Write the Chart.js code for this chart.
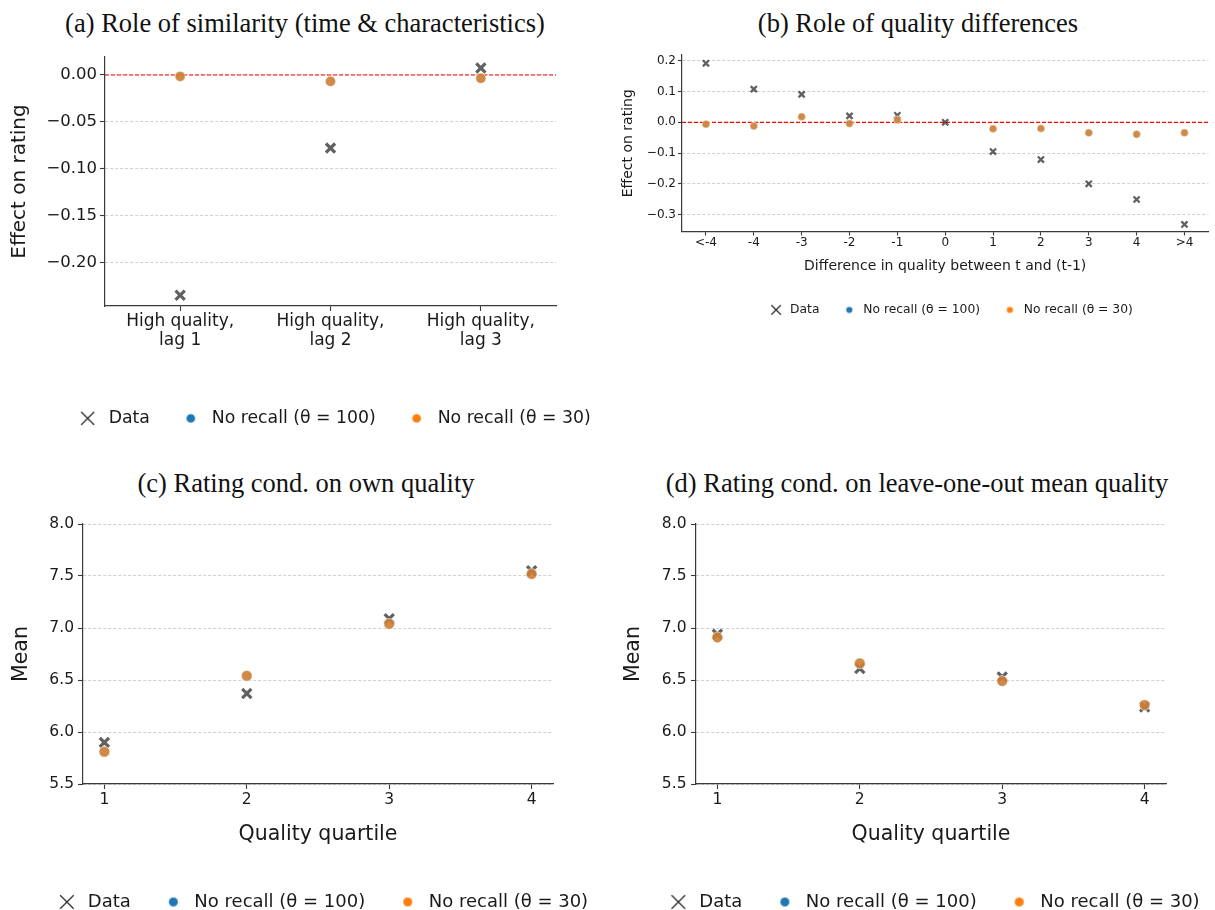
<!DOCTYPE html>
<html>
<head>
<meta charset="utf-8">
<script src="https://cdn.jsdelivr.net/npm/chart.js@4.4.1/dist/chart.umd.min.js"></script>
<style>
  html, body { margin: 0; padding: 0; background: #fff; width: 1215px; height: 910px; overflow: hidden; }
  canvas { position: absolute; }
  .ttl { position: absolute; font-family: 'Liberation Serif', serif; font-size: 26.5px; line-height: 1; color: #111;
         white-space: nowrap; transform: translateX(-50%); }
</style>
</head>
<body>
<div class="ttl" style="left:305px; top:9.5px">(a) Role of similarity (time &amp; characteristics)</div>
<div class="ttl" style="left:918px; top:9.5px">(b) Role of quality differences</div>
<div class="ttl" style="left:306px; top:470px">(c) Rating cond. on own quality</div>
<div class="ttl" style="left:917px; top:470px">(d) Rating cond. on leave-one-out mean quality</div>

<canvas id="chartA" style="left:0px; top:0px;" width="625" height="437"></canvas>
<canvas id="chartB" style="left:610px; top:0px;" width="605" height="326"></canvas>
<canvas id="chartC" style="left:0px; top:460px;" width="625" height="461"></canvas>
<canvas id="chartD" style="left:595px; top:460px;" width="620" height="461"></canvas>

<script>
// ---------------- Data ----------------
const seriesNames = ['Data', 'No recall (θ = 100)', 'No recall (θ = 30)'];

// (a) Role of similarity
const catsA = [['High quality,', 'lag 1'], ['High quality,', 'lag 2'], ['High quality,', 'lag 3']];
const dataA = [-0.235, -0.078, 0.0075];
const noRecall100A = [-0.0015, -0.0068, -0.0036];
const noRecall30A = [-0.0015, -0.0068, -0.0036];
const yTicksA = [0.00, -0.05, -0.10, -0.15, -0.20];

// (b) Role of quality differences
const catsB = ['<-4', '-4', '-3', '-2', '-1', '0', '1', '2', '3', '4', '>4'];
const dataB = [0.192, 0.108, 0.091, 0.021, 0.023, 0.0, -0.095, -0.121, -0.200, -0.251, -0.332];
const noRecall100B = [-0.006, -0.012, 0.018, -0.004, 0.008, null, -0.021, -0.020, -0.034, -0.039, -0.034];
const noRecall30B = [-0.006, -0.012, 0.018, -0.004, 0.008, null, -0.021, -0.020, -0.034, -0.039, -0.034];
const yTicksB = [0.2, 0.1, 0.0, -0.1, -0.2, -0.3];

// (c) Rating conditional on own quality
const quartiles = [1, 2, 3, 4];
const dataC = [5.90, 6.37, 7.09, 7.55];
const noRecall100C = [5.81, 6.54, 7.04, 7.52];
const noRecall30C = [5.81, 6.54, 7.04, 7.52];

// (d) Rating conditional on leave-one-out mean quality
const dataD = [6.94, 6.61, 6.53, 6.24];
const noRecall100D = [6.91, 6.66, 6.49, 6.26];
const noRecall30D = [6.91, 6.66, 6.49, 6.26];
const yTicksCD = [5.5, 6.0, 6.5, 7.0, 7.5, 8.0];

// ---------------- Styling helpers ----------------
Chart.defaults.font.family = "'DejaVu Sans', sans-serif";
const TXT = '#1a1a1a';
const SPINE = '#3a3a3a';
const GRID = '#c4c4c4';
const XCOL = 'rgba(0,0,0,0.62)';
const BLUE = 'rgba(31,119,180,0.7)';
const ORANGE = 'rgba(255,127,14,0.7)';

function fmt(d) { return v => (v < 0 ? '\u2212' : '') + Math.abs(v).toFixed(d); }

function legendIcon(kind, size, color, lw) {
  const c = document.createElement('canvas');
  const s = Math.ceil(size) + 4;
  c.width = s; c.height = s;
  const g = c.getContext('2d');
  if (kind === 'x') {
    g.strokeStyle = color; g.lineWidth = lw;
    const a = (s - size) / 2, b = a + size;
    g.beginPath(); g.moveTo(a, a); g.lineTo(b, b); g.moveTo(b, a); g.lineTo(a, b); g.stroke();
  } else {
    g.fillStyle = color; g.beginPath(); g.arc(s / 2, s / 2, size / 2, 0, Math.PI * 2); g.fill();
  }
  return c;
}

const zeroLine = {
  id: 'zeroLine',
  beforeDatasetsDraw(chart, args, opts) {
    if (!opts || opts.value === undefined) return;
    const a = chart.chartArea, y = chart.scales.y;
    const py = y.getPixelForValue(opts.value);
    const ctx = chart.ctx;
    ctx.save();
    ctx.strokeStyle = opts.color; ctx.lineWidth = opts.width; ctx.setLineDash(opts.dash);
    ctx.beginPath(); ctx.moveTo(a.left, py); ctx.lineTo(a.right, py); ctx.stroke();
    ctx.restore();
  }
};

const legendCenter = {
  id: 'legendCenter',
  afterLayout(chart, args, opts) {
    const lg = chart.legend;
    if (!lg || opts.center === undefined) return;
    const w = lg.right - lg.left;
    lg.left = opts.center - w / 2;
    lg.right = opts.center + w / 2;
  }
};

function makePanel(id, p) {
  const xs = p.xValues;
  const pts = arr => xs ? arr.map((y, i) => ({x: xs[i], y: y})) : arr;
  const datasets = [
    {label: seriesNames[0], data: pts(p.series[0]), showLine: false, pointStyle: 'crossRot',
     pointRadius: p.xr, pointBorderWidth: p.xw, pointBorderColor: XCOL, pointBackgroundColor: XCOL, order: 3},
    {label: seriesNames[1], data: pts(p.series[1]), showLine: false, pointStyle: 'circle',
     pointRadius: p.dr, pointBorderWidth: 0.7, pointBorderColor: 'rgba(255,255,255,0.55)', pointBackgroundColor: BLUE, order: 2},
    {label: seriesNames[2], data: pts(p.series[2]), showLine: false, pointStyle: 'circle',
     pointRadius: p.dr, pointBorderWidth: 0.7, pointBorderColor: 'rgba(255,255,255,0.55)', pointBackgroundColor: ORANGE, order: 1}
  ];
  const icons = [
    legendIcon('x', p.legIconX, '#2a2a2a', p.legIconLw),
    legendIcon('o', p.legIconDot, '#1f77b4'),
    legendIcon('o', p.legIconDot, '#ff7f0e')
  ];
  const legendH = p.legFont + p.legPad + 10;
  const xHeight = p.H - legendH - p.areaBottom;

  const xTicks = {font: {size: p.xTickFont, lineHeight: 1.12}, color: TXT, padding: p.xTickPad,
                  maxRotation: 0, autoSkip: false};
  let xScale;
  if (p.labels) {
    xScale = {type: 'category', offset: true};
  } else {
    xScale = {type: 'linear', min: p.xMin, max: p.xMax,
              afterBuildTicks: s => { s.ticks = p.xTicks.map(v => ({value: v})); }};
    xTicks.callback = v => String(v);
  }
  Object.assign(xScale, {
    afterFit: s => { s.height = xHeight; },
    ticks: xTicks,
    grid: {display: true, drawOnChartArea: false, drawTicks: true, tickLength: p.tickLen,
           tickColor: SPINE, tickWidth: 1.1, offset: false},
    border: {display: true, color: SPINE, width: 1.2},
    title: p.xTitle ? {display: true, text: p.xTitle, color: TXT, font: {size: p.xTitleFont},
                       padding: {top: 0, bottom: p.xTitlePadB}} : {display: false}
  });

  const scales = {
    x: xScale,
    y: {
      type: 'linear', position: 'left', min: p.yMin, max: p.yMax,
      afterBuildTicks: s => { s.ticks = p.yTicks.map(v => ({value: v})); },
      afterFit: s => { s.width = p.yWidth; },
      ticks: {font: {size: p.yTickFont}, color: TXT, padding: p.yTickPad, callback: fmt(p.yDec)},
      grid: {display: true, drawOnChartArea: true, drawTicks: true, color: GRID, lineWidth: 0.8,
             tickLength: p.tickLen, tickColor: SPINE, tickWidth: 1.1, tickBorderDash: []},
      border: {display: true, color: SPINE, width: 1.2, dash: [3, 2]},
      title: {display: true, text: p.yTitle, color: TXT, font: {size: p.yTitleFont},
              padding: {top: p.yTitlePadT, bottom: 0}}
    }
  };
  if (p.rightW) {
    // empty spacer on the right so the legend may be wider than the plot
    scales.spacer = {type: 'linear', axis: 'y', position: 'right', display: true,
      ticks: {display: false}, grid: {display: false, drawTicks: false}, border: {display: false},
      afterFit: s => { s.width = p.rightW; }};
  }

  const cfg = {
    type: 'line',
    data: {labels: p.labels || [], datasets: datasets},
    options: {
      responsive: false, devicePixelRatio: 1, animation: false, events: [],
      layout: {padding: {top: p.padTop, right: 0, left: 0, bottom: 0}},
      scales: scales,
      plugins: {
        title: {display: false},
        tooltip: {enabled: false},
        zeroLine: p.zero ? {value: 0, color: '#ff0000', width: 1.1, dash: [4, 2]} : {},
        legendCenter: {center: p.legCenter},
        legend: {
          display: true, position: 'bottom', align: 'center',
          labels: {
            usePointStyle: true, pointStyleWidth: p.legBox, padding: p.legPad,
            font: {size: p.legFont}, color: TXT,
            generateLabels: () => seriesNames.map((t, i) => ({
              text: t, pointStyle: icons[i], fillStyle: 'rgba(0,0,0,0)', strokeStyle: 'rgba(0,0,0,0)',
              lineWidth: 0, hidden: false, datasetIndex: i, fontColor: TXT
            }))
          }
        }
      }
    },
    plugins: p.zero ? [zeroLine, legendCenter] : [legendCenter]
  };
  return new Chart(document.getElementById(id), cfg);
}

// (a)
makePanel('chartA', {
  labels: catsA, series: [dataA, noRecall100A, noRecall30A],
  H: 437, padTop: 57, rightW: 625 - 556, areaBottom: 306, yWidth: 105,
  yMin: -0.2465, yMax: 0.0192, yTicks: yTicksA, yDec: 2,
  yTickFont: 16.5, yTickPad: 3, tickLen: 5, xTickFont: 17, xTickPad: 1,
  yTitle: 'Effect on rating', yTitleFont: 20, yTitlePadT: 8,
  xTitle: null, zero: true,
  xr: 6.5, xw: 3.2, dr: 5,
  legFont: 17.3, legPad: 28.5, legBox: 24.7, legCenter: 333,
  legIconX: 13, legIconLw: 1.3, legIconDot: 8.7
});

// (b)
makePanel('chartB', {
  labels: catsB, series: [dataB, noRecall100B, noRecall30B],
  H: 326, padTop: 55, rightW: 0, areaBottom: 231.5, yWidth: 72,
  yMin: -0.355, yMax: 0.219, yTicks: yTicksB, yDec: 1,
  yTickFont: 12, yTickPad: 2, tickLen: 4, xTickFont: 12, xTickPad: 1,
  yTitle: 'Effect on rating', yTitleFont: 14, yTitlePadT: 9.6,
  xTitle: 'Difference in quality between t and (t-1)', xTitleFont: 14, xTitlePadB: 7.3, zero: true,
  xr: 4.3, xw: 2.3, dr: 3.8,
  legFont: 12.3, legPad: 22, legBox: 15.7, legCenter: 340.5,
  legIconX: 9.5, legIconLw: 1.25, legIconDot: 6.2
});

// (c)
makePanel('chartC', {
  labels: null, xValues: quartiles, xMin: 0.85, xMax: 4.15, xTicks: quartiles,
  series: [dataC, noRecall100C, noRecall30C],
  H: 461, padTop: 64, rightW: 625 - 553, areaBottom: 324, yWidth: 83,
  yMin: 5.5, yMax: 8.0, yTicks: yTicksCD, yDec: 1,
  yTickFont: 15.5, yTickPad: 4, tickLen: 5, xTickFont: 15.5, xTickPad: 2.5,
  yTitle: 'Mean', yTitleFont: 20.5, yTitlePadT: 22 - 12.3,
  xTitle: 'Quality quartile', xTitleFont: 20.5, xTitlePadB: 402.5 - 375 - 12.3, zero: false,
  xr: 6.5, xw: 3.2, dr: 5.3,
  legFont: 18, legPad: 30.5, legBox: 24, legCenter: 321.5,
  legIconX: 13.5, legIconLw: 1.3, legIconDot: 9
});

// (d)
makePanel('chartD', {
  labels: null, xValues: quartiles, xMin: 0.85, xMax: 4.15, xTicks: quartiles,
  series: [dataD, noRecall100D, noRecall30D],
  H: 461, padTop: 64, rightW: 1215 - 1166, areaBottom: 324, yWidth: 696 - 595,
  yMin: 5.5, yMax: 8.0, yTicks: yTicksCD, yDec: 1,
  yTickFont: 15.5, yTickPad: 4.5, tickLen: 5, xTickFont: 15.5, xTickPad: 2.5,
  yTitle: 'Mean', yTitleFont: 20.5, yTitlePadT: 634 - 595 - 12.3,
  xTitle: 'Quality quartile', xTitleFont: 20.5, xTitlePadB: 402.5 - 375 - 12.3, zero: false,
  xr: 6.5, xw: 3.2, dr: 5.3,
  legFont: 18, legPad: 30.5, legBox: 24, legCenter: 933 - 595,
  legIconX: 13.5, legIconLw: 1.3, legIconDot: 9
});
</script>
</body>
</html>
